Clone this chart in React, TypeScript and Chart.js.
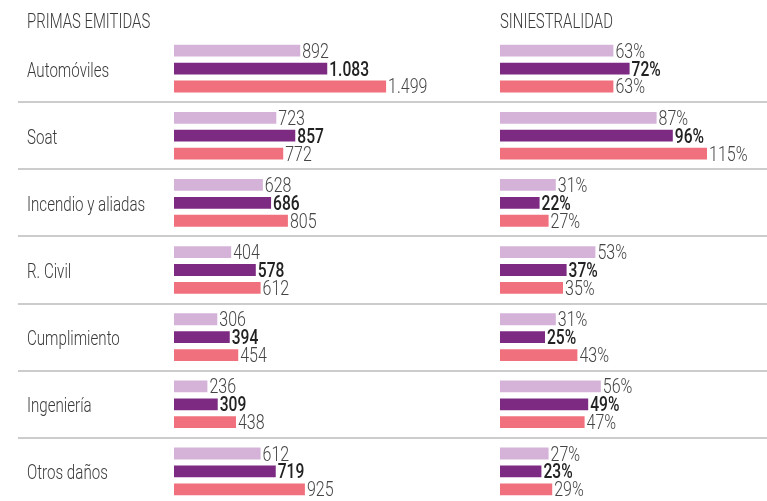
import React, { useEffect, useRef } from "react";
import { Chart, registerables } from "chart.js";

Chart.register(...registerables);

const categories = ["Automóviles", "Soat", "Incendio y aliadas", "R. Civil", "Cumplimiento", "Ingeniería", "Otros daños"];
const primasA = [892, 723, 628, 404, 306, 236, 612];
const primasB = [1083, 857, 686, 578, 394, 309, 719];
const primasC = [1499, 772, 805, 612, 454, 438, 925];
const sinA = [63, 87, 31, 53, 31, 56, 27];
const sinB = [72, 96, 22, 37, 25, 49, 23];
const sinC = [63, 115, 27, 35, 43, 47, 29];
const headers = ["PRIMAS EMITIDAS", "SINIESTRALIDAD"];

const colors = ["#d5b3d9", "#7c2a82", "#f1707d"];
const FONT = "Roboto, 'Liberation Sans', sans-serif";

const fmtNum = (v: number) => String(v).replace(/\B(?=(\d{3})+(?!\d))/g, ".");
const fmtPct = (v: number) => `${v}%`;

function drawText(ctx: CanvasRenderingContext2D, text: string, x: number, y: number, font: string, color: string, sx: number) {
  ctx.save();
  ctx.font = font;
  ctx.fillStyle = color;
  ctx.textAlign = "left";
  ctx.textBaseline = "alphabetic";
  ctx.translate(x, y);
  ctx.scale(sx, 1);
  ctx.fillText(text, 0, 0);
  ctx.restore();
}

function makePlugin(fmt: (v: number) => string, header: string, lineStartX: number, headerX: number, showCats: boolean) {
  return {
    id: "custom" + header.replace(/\s/g, ""),
    beforeDatasetsDraw(chart: any) {
      const ctx = chart.ctx;
      const y = chart.scales.y;
      ctx.save();
      ctx.strokeStyle = "#cccccc";
      ctx.lineWidth = 2;
      for (let i = 0; i < categories.length - 1; i++) {
        const yy = Math.round((y.getPixelForTick(i) + y.getPixelForTick(i + 1)) / 2);
        ctx.beginPath();
        ctx.moveTo(lineStartX, yy);
        ctx.lineTo(chart.width, yy);
        ctx.stroke();
      }
      ctx.restore();
      drawText(ctx, header, headerX, 28, `300 21px ${FONT}`, "#3a3a3a", 0.71);
      if (showCats) {
        categories.forEach((c, i) => {
          drawText(ctx, c, 27, y.getPixelForTick(i) + 8, `300 21px ${FONT}`, "#3a3a3a", 0.72);
        });
      }
    },
    afterDatasetsDraw(chart: any) {
      const ctx = chart.ctx;
      chart.data.datasets.forEach((ds: any, di: number) => {
        const meta = chart.getDatasetMeta(di);
        const font = di === 1 ? `500 20px ${FONT}` : `300 20px ${FONT}`;
        const color = di === 1 ? "#222" : "#444";
        meta.data.forEach((el: any, i: number) => {
          drawText(ctx, fmt(ds.data[i]), el.x + 2, el.y + 7, font, color, di === 1 ? 0.78 : 0.8);
        });
      });
    },
  };
}

function makeDatasets(series: number[][]) {
  return series.map((d, i) => ({
    data: d,
    backgroundColor: colors[i],
    borderWidth: 0,
    categoryPercentage: 0.8,
    barPercentage: 0.66,
  }));
}

function makeOptions(max: number, padLeft: number, padRight: number) {
  return {
    indexAxis: "y",
    animation: false,
    responsive: false,
    maintainAspectRatio: false,
    layout: { padding: { left: padLeft, top: 35, bottom: 5, right: padRight } },
    plugins: { legend: { display: false }, tooltip: { enabled: false } },
    scales: {
      x: { display: false, min: 0, max },
      y: { display: false },
    },
  } as any;
}

export default function App() {
  const leftRef = useRef<HTMLCanvasElement>(null);
  const rightRef = useRef<HTMLCanvasElement>(null);

  useEffect(() => {
    const left = new Chart(leftRef.current!, {
      type: "bar",
      data: { labels: categories, datasets: makeDatasets([primasA, primasB, primasC]) as any },
      options: makeOptions(2000, 174, 23),
      plugins: [makePlugin(fmtNum, headers[0], 18, 27, true)],
    });
    const right = new Chart(rightRef.current!, {
      type: "bar",
      data: { labels: categories, datasets: makeDatasets([sinA, sinB, sinC]) as any },
      options: makeOptions(140, 20, 15),
      plugins: [makePlugin(fmtPct, headers[1], 0, 20, false)],
    });
    return () => {
      left.destroy();
      right.destroy();
    };
  }, []);

  return (
    <div style={{ position: "fixed", left: 0, top: 0, width: 767, height: 501, overflow: "hidden", background: "#fff" }}>
      <canvas ref={leftRef} width={480} height={510} style={{ position: "absolute", left: 0, top: 0, width: 480, height: 510 }} />
      <canvas ref={rightRef} width={287} height={510} style={{ position: "absolute", left: 480, top: 0, width: 287, height: 510 }} />
    </div>
  );
}
